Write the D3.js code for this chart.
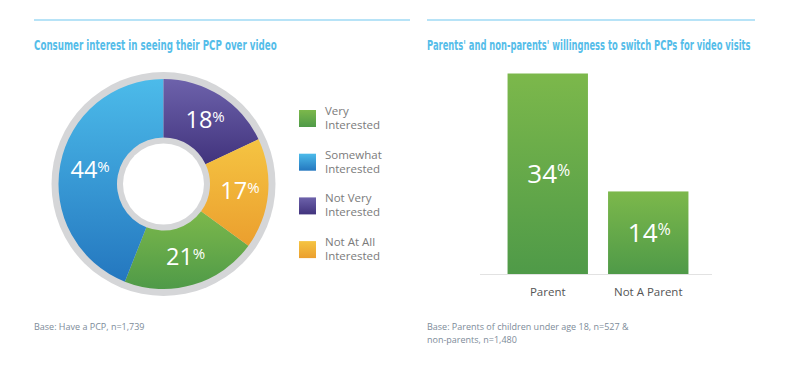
<!DOCTYPE html>
<html>
<head>
<meta charset="utf-8">
<script src="https://cdn.jsdelivr.net/npm/d3@7"></script>
<style>
  body { margin: 0; background: #fff; }
  svg { display: block; }
  .title { font-family: "Liberation Sans Narrow", "DejaVu Sans Condensed", sans-serif; font-weight: bold; font-size: 14px; fill: #55bde9; }
  .legend, .cat, .note { font-family: "Open Sans", sans-serif; }
  .val { font-family: "Open Sans", sans-serif; fill: #fff; font-weight: 500; }
</style>
</head>
<body>
<div id="chart"></div>
<script>
// donut data (legend order)
const donutCategories = ["Very Interested", "Somewhat Interested", "Not Very Interested", "Not At All Interested"];
const donutValues = [21, 44, 18, 17];
// clockwise from 12 o'clock
const sliceOrder = ["Not Very Interested", "Not At All Interested", "Very Interested", "Somewhat Interested"];
const legendLines = [["Very", "Interested"], ["Somewhat", "Interested"], ["Not Very", "Interested"], ["Not At All", "Interested"]];

// bar data
const barCategories = ["Parent", "Not A Parent"];
const barValues = [34, 14];

const titles = ["Consumer interest in seeing their PCP over video", "Parents' and non-parents' willingness to switch PCPs for video visits"];
const notesLeft = ["Base: Have a PCP, n=1,739"];
const notesRight = ["Base: Parents of children under age 18, n=527 &", "non-parents, n=1,480"];

const W = 790, H = 376;
const svg = d3.select("#chart").append("svg").attr("width", W).attr("height", H);
const defs = svg.append("defs");

const grads = {
  "Very Interested": ["#7cb84b", "#4f9a48"],
  "Somewhat Interested": ["#4cbbea", "#2477bf"],
  "Not Very Interested": ["#6d62ab", "#41337d"],
  "Not At All Interested": ["#f5c442", "#eb9f2e"]
};
const gradId = {};
Object.entries(grads).forEach(([k, c], i) => {
  const g = defs.append("linearGradient").attr("id", "g" + i)
    .attr("x1", 0).attr("y1", 0).attr("x2", 0).attr("y2", 1);
  g.append("stop").attr("offset", "0%").attr("stop-color", c[0]);
  g.append("stop").attr("offset", "100%").attr("stop-color", c[1]);
  gradId[k] = "url(#g" + i + ")";
});
const barGrad = defs.append("linearGradient").attr("id", "gbar")
  .attr("x1", 0).attr("y1", 0).attr("x2", 0).attr("y2", 1);
barGrad.append("stop").attr("offset", "0%").attr("stop-color", "#7cb84b");
barGrad.append("stop").attr("offset", "100%").attr("stop-color", "#4f9a48");

// header rules + titles
svg.append("line").attr("x1", 34).attr("x2", 410).attr("y1", 20).attr("y2", 20)
  .attr("stroke", "#9fdaf4").attr("stroke-width", 1.5);
svg.append("line").attr("x1", 427).attr("x2", 755).attr("y1", 20).attr("y2", 20)
  .attr("stroke", "#9fdaf4").attr("stroke-width", 1.5);

// squeeze titles horizontally to the reference widths
[[titles[0], 34, 243], [titles[1], 427, 324]].forEach(([t, tx, tw]) => {
  const el = svg.append("text").attr("class", "title").attr("x", 0).attr("y", 0).text(t);
  const sx = tw / el.node().getComputedTextLength();
  el.attr("transform", `translate(${tx},50) scale(${sx},1)`);
});

// donut
const cx = 163.5, cy = 184;
const donut = svg.append("g").attr("transform", `translate(${cx},${cy})`);
donut.append("circle").attr("r", 112).attr("fill", "#d5d6d8");
donut.append("circle").attr("r", 40.5).attr("fill", "#fff");

const pieData = donutCategories.map((c, i) => ({ cat: c, value: donutValues[i] }));
const pie = d3.pie().value(d => d.value)
  .sort((a, b) => sliceOrder.indexOf(a.cat) - sliceOrder.indexOf(b.cat));
const arc = d3.arc().innerRadius(46.5).outerRadius(105);
const arcs = pie(pieData);

donut.selectAll("path.slice").data(arcs).enter().append("path")
  .attr("class", "slice")
  .attr("d", arc)
  .attr("fill", d => gradId[d.data.cat]);

const vals = donut.selectAll("text.val").data(arcs).enter().append("text")
  .attr("class", "val")
  .attr("text-anchor", "middle")
  .attr("transform", d => { const [x, y] = arc.centroid(d); return `translate(${x + 1},${y + 8})`; });
vals.append("tspan").attr("font-size", 23.5).text(d => d.data.value);
vals.append("tspan").attr("font-size", 15).attr("dy", -6).text("%");

// legend
const legend = svg.append("g").attr("class", "legend");
const lg = legend.selectAll("g").data(donutCategories).enter().append("g")
  .attr("transform", (d, i) => `translate(299,${110 + i * 43.7})`);
lg.append("rect").attr("width", 17).attr("height", 17).attr("fill", d => gradId[d]);
lg.append("text").attr("x", 26).attr("y", 5).attr("font-size", 11.5).attr("fill", "#7b7b7b")
  .selectAll("tspan").data((d, i) => legendLines[i]).enter().append("tspan")
  .attr("x", 26).attr("dy", (d, i) => i === 0 ? 0 : 14).text(d => d);

// bars
const x = d3.scaleBand().domain(barCategories).range([497.5, 698.5])
  .paddingInner(0.2).paddingOuter(0.1);
const y = d3.scaleLinear().domain([0, d3.max(barValues)]).range([274, 73.5]);
const barData = barCategories.map((c, i) => ({ cat: c, value: barValues[i] }));

svg.append("line").attr("x1", 480).attr("x2", 712).attr("y1", 274.5).attr("y2", 274.5)
  .attr("stroke", "#e2e2e2").attr("stroke-width", 1);

svg.selectAll("rect.bar").data(barData).enter().append("rect")
  .attr("class", "bar")
  .attr("x", d => x(d.cat)).attr("width", x.bandwidth())
  .attr("y", d => y(d.value)).attr("height", d => y(0) - y(d.value))
  .attr("fill", "url(#gbar)");

const bv = svg.selectAll("text.bval").data(barData).enter().append("text")
  .attr("class", "val")
  .attr("text-anchor", "middle")
  .attr("x", d => x(d.cat) + x.bandwidth() / 2 + 1)
  .attr("y", d => (y(d.value) + y(0)) / 2 + 9);
bv.append("tspan").attr("font-size", 26).text(d => d.value);
bv.append("tspan").attr("font-size", 16).attr("dy", -7).text("%");

svg.selectAll("text.cat").data(barCategories).enter().append("text")
  .attr("class", "cat")
  .attr("x", d => x(d) + x.bandwidth() / 2)
  .attr("y", 296)
  .attr("text-anchor", "middle")
  .attr("font-size", 11.5)
  .attr("fill", "#555")
  .text(d => d);

// footnotes
svg.append("text").attr("class", "note").attr("x", 34).attr("y", 330)
  .attr("font-size", 9).attr("fill", "#7d8b99").text(notesLeft[0]);
svg.append("text").attr("class", "note").attr("x", 427).attr("y", 330)
  .attr("font-size", 9).attr("fill", "#7d8b99")
  .selectAll("tspan").data(notesRight).enter().append("tspan")
  .attr("x", 427).attr("dy", (d, i) => i === 0 ? 0 : 12.7).text(d => d);
</script>
</body>
</html>
